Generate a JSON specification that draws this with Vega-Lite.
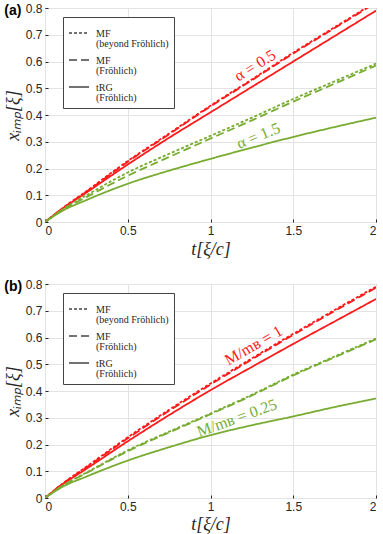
{
  "$schema": "https://vega.github.io/schema/vega-lite/v6.json",
  "padding": {"left": 3, "top": 1, "right": 0, "bottom": 0},
  "background": "white",
  "config": {
    "view": {"stroke": "#555", "strokeWidth": 1},
    "axis": {
      "labelFont": "Liberation Sans", "labelFontSize": 12, "labelColor": "#262626", "labelOverlap": false,
      "tickColor": "#262626", "tickSize": -3, "domain": false,
      "gridColor": "#e3e3e3", "gridWidth": 1,
      "titleFont": "Liberation Serif", "titleFontStyle": "italic", "titleFontWeight": "normal",
      "titleFontSize": 18, "titleColor": "#262626"
    },
    "legend": {
      "orient": "none", "legendX": 18, "legendY": 9, "fillColor": "white", "strokeColor": "#444",
      "padding": 5, "labelFont": "Liberation Serif", "labelFontSize": 10, "labelColor": "#262626",
      "symbolType": "stroke", "symbolStrokeColor": "#444", "symbolStrokeWidth": 1.5, "symbolSize": 400,
      "rowPadding": 0, "labelOffset": 6
    },
    "title": {"font": "Liberation Sans", "fontSize": 14, "fontWeight": "bold", "color": "#000"}
  },
  "datasets": {
    "a": [
      {"s": "0.5", "m": "MF-b", "t": 0, "x": 0}, {"s": "0.5", "m": "MF-b", "t": 0.1, "x": 0.049}, {"s": "0.5", "m": "MF-b", "t": 0.25, "x": 0.115}, {"s": "0.5", "m": "MF-b", "t": 0.5, "x": 0.228}, {"s": "0.5", "m": "MF-b", "t": 0.75, "x": 0.331}, {"s": "0.5", "m": "MF-b", "t": 1, "x": 0.435}, {"s": "0.5", "m": "MF-b", "t": 1.25, "x": 0.533}, {"s": "0.5", "m": "MF-b", "t": 1.5, "x": 0.633}, {"s": "0.5", "m": "MF-b", "t": 1.75, "x": 0.728}, {"s": "0.5", "m": "MF-b", "t": 2, "x": 0.823},
      {"s": "0.5", "m": "MF-F", "t": 0, "x": 0}, {"s": "0.5", "m": "MF-F", "t": 0.1, "x": 0.048}, {"s": "0.5", "m": "MF-F", "t": 0.25, "x": 0.113}, {"s": "0.5", "m": "MF-F", "t": 0.5, "x": 0.225}, {"s": "0.5", "m": "MF-F", "t": 0.75, "x": 0.328}, {"s": "0.5", "m": "MF-F", "t": 1, "x": 0.432}, {"s": "0.5", "m": "MF-F", "t": 1.25, "x": 0.53}, {"s": "0.5", "m": "MF-F", "t": 1.5, "x": 0.63}, {"s": "0.5", "m": "MF-F", "t": 1.75, "x": 0.725}, {"s": "0.5", "m": "MF-F", "t": 2, "x": 0.82},
      {"s": "0.5", "m": "tRG", "t": 0, "x": 0}, {"s": "0.5", "m": "tRG", "t": 0.1, "x": 0.047}, {"s": "0.5", "m": "tRG", "t": 0.25, "x": 0.11}, {"s": "0.5", "m": "tRG", "t": 0.5, "x": 0.215}, {"s": "0.5", "m": "tRG", "t": 0.75, "x": 0.315}, {"s": "0.5", "m": "tRG", "t": 1, "x": 0.41}, {"s": "0.5", "m": "tRG", "t": 1.25, "x": 0.505}, {"s": "0.5", "m": "tRG", "t": 1.5, "x": 0.6}, {"s": "0.5", "m": "tRG", "t": 1.75, "x": 0.695}, {"s": "0.5", "m": "tRG", "t": 2, "x": 0.79},
      {"s": "1.5", "m": "MF-b", "t": 0, "x": 0}, {"s": "1.5", "m": "MF-b", "t": 0.1, "x": 0.045}, {"s": "1.5", "m": "MF-b", "t": 0.25, "x": 0.1}, {"s": "1.5", "m": "MF-b", "t": 0.5, "x": 0.185}, {"s": "1.5", "m": "MF-b", "t": 0.75, "x": 0.255}, {"s": "1.5", "m": "MF-b", "t": 1, "x": 0.322}, {"s": "1.5", "m": "MF-b", "t": 1.25, "x": 0.39}, {"s": "1.5", "m": "MF-b", "t": 1.5, "x": 0.46}, {"s": "1.5", "m": "MF-b", "t": 1.75, "x": 0.526}, {"s": "1.5", "m": "MF-b", "t": 2, "x": 0.592},
      {"s": "1.5", "m": "MF-F", "t": 0, "x": 0}, {"s": "1.5", "m": "MF-F", "t": 0.1, "x": 0.043}, {"s": "1.5", "m": "MF-F", "t": 0.25, "x": 0.093}, {"s": "1.5", "m": "MF-F", "t": 0.5, "x": 0.173}, {"s": "1.5", "m": "MF-F", "t": 0.75, "x": 0.243}, {"s": "1.5", "m": "MF-F", "t": 1, "x": 0.312}, {"s": "1.5", "m": "MF-F", "t": 1.25, "x": 0.38}, {"s": "1.5", "m": "MF-F", "t": 1.5, "x": 0.45}, {"s": "1.5", "m": "MF-F", "t": 1.75, "x": 0.517}, {"s": "1.5", "m": "MF-F", "t": 2, "x": 0.585},
      {"s": "1.5", "m": "tRG", "t": 0, "x": 0}, {"s": "1.5", "m": "tRG", "t": 0.1, "x": 0.04}, {"s": "1.5", "m": "tRG", "t": 0.25, "x": 0.082}, {"s": "1.5", "m": "tRG", "t": 0.5, "x": 0.143}, {"s": "1.5", "m": "tRG", "t": 0.75, "x": 0.192}, {"s": "1.5", "m": "tRG", "t": 1, "x": 0.236}, {"s": "1.5", "m": "tRG", "t": 1.25, "x": 0.278}, {"s": "1.5", "m": "tRG", "t": 1.5, "x": 0.318}, {"s": "1.5", "m": "tRG", "t": 1.75, "x": 0.355}, {"s": "1.5", "m": "tRG", "t": 2, "x": 0.39}
    ],
    "b": [
      {"s": "1", "m": "MF-b", "t": 0, "x": 0}, {"s": "1", "m": "MF-b", "t": 0.1, "x": 0.051}, {"s": "1", "m": "MF-b", "t": 0.25, "x": 0.117}, {"s": "1", "m": "MF-b", "t": 0.5, "x": 0.227}, {"s": "1", "m": "MF-b", "t": 0.75, "x": 0.33}, {"s": "1", "m": "MF-b", "t": 1, "x": 0.428}, {"s": "1", "m": "MF-b", "t": 1.25, "x": 0.522}, {"s": "1", "m": "MF-b", "t": 1.5, "x": 0.614}, {"s": "1", "m": "MF-b", "t": 1.75, "x": 0.703}, {"s": "1", "m": "MF-b", "t": 2, "x": 0.79},
      {"s": "1", "m": "MF-F", "t": 0, "x": 0}, {"s": "1", "m": "MF-F", "t": 0.1, "x": 0.05}, {"s": "1", "m": "MF-F", "t": 0.25, "x": 0.114}, {"s": "1", "m": "MF-F", "t": 0.5, "x": 0.223}, {"s": "1", "m": "MF-F", "t": 0.75, "x": 0.326}, {"s": "1", "m": "MF-F", "t": 1, "x": 0.424}, {"s": "1", "m": "MF-F", "t": 1.25, "x": 0.518}, {"s": "1", "m": "MF-F", "t": 1.5, "x": 0.61}, {"s": "1", "m": "MF-F", "t": 1.75, "x": 0.699}, {"s": "1", "m": "MF-F", "t": 2, "x": 0.786},
      {"s": "1", "m": "tRG", "t": 0, "x": 0}, {"s": "1", "m": "tRG", "t": 0.1, "x": 0.048}, {"s": "1", "m": "tRG", "t": 0.25, "x": 0.109}, {"s": "1", "m": "tRG", "t": 0.5, "x": 0.212}, {"s": "1", "m": "tRG", "t": 0.75, "x": 0.31}, {"s": "1", "m": "tRG", "t": 1, "x": 0.403}, {"s": "1", "m": "tRG", "t": 1.25, "x": 0.49}, {"s": "1", "m": "tRG", "t": 1.5, "x": 0.576}, {"s": "1", "m": "tRG", "t": 1.75, "x": 0.66}, {"s": "1", "m": "tRG", "t": 2, "x": 0.744},
      {"s": "0.25", "m": "MF-b", "t": 0, "x": 0}, {"s": "0.25", "m": "MF-b", "t": 0.1, "x": 0.044}, {"s": "0.25", "m": "MF-b", "t": 0.25, "x": 0.095}, {"s": "0.25", "m": "MF-b", "t": 0.5, "x": 0.178}, {"s": "0.25", "m": "MF-b", "t": 0.75, "x": 0.248}, {"s": "0.25", "m": "MF-b", "t": 1, "x": 0.316}, {"s": "0.25", "m": "MF-b", "t": 1.25, "x": 0.386}, {"s": "0.25", "m": "MF-b", "t": 1.5, "x": 0.461}, {"s": "0.25", "m": "MF-b", "t": 1.75, "x": 0.529}, {"s": "0.25", "m": "MF-b", "t": 2, "x": 0.596},
      {"s": "0.25", "m": "MF-F", "t": 0, "x": 0}, {"s": "0.25", "m": "MF-F", "t": 0.1, "x": 0.043}, {"s": "0.25", "m": "MF-F", "t": 0.25, "x": 0.093}, {"s": "0.25", "m": "MF-F", "t": 0.5, "x": 0.175}, {"s": "0.25", "m": "MF-F", "t": 0.75, "x": 0.245}, {"s": "0.25", "m": "MF-F", "t": 1, "x": 0.313}, {"s": "0.25", "m": "MF-F", "t": 1.25, "x": 0.383}, {"s": "0.25", "m": "MF-F", "t": 1.5, "x": 0.458}, {"s": "0.25", "m": "MF-F", "t": 1.75, "x": 0.526}, {"s": "0.25", "m": "MF-F", "t": 2, "x": 0.593},
      {"s": "0.25", "m": "tRG", "t": 0, "x": 0}, {"s": "0.25", "m": "tRG", "t": 0.1, "x": 0.04}, {"s": "0.25", "m": "tRG", "t": 0.25, "x": 0.08}, {"s": "0.25", "m": "tRG", "t": 0.5, "x": 0.14}, {"s": "0.25", "m": "tRG", "t": 0.75, "x": 0.19}, {"s": "0.25", "m": "tRG", "t": 1, "x": 0.235}, {"s": "0.25", "m": "tRG", "t": 1.25, "x": 0.272}, {"s": "0.25", "m": "tRG", "t": 1.5, "x": 0.305}, {"s": "0.25", "m": "tRG", "t": 1.75, "x": 0.34}, {"s": "0.25", "m": "tRG", "t": 2, "x": 0.372}
    ]
  },
  "resolve": {
    "scale": {"color": "independent", "strokeDash": "independent"},
    "legend": {"color": "independent", "strokeDash": "independent"}
  },
  "spacing": 18,
  "vconcat": [
    {
      "width": 331, "height": 214,
      "title": {"text": "(a)", "anchor": "start", "frame": "bounds", "offset": -16},
      "layer": [
        {
          "data": {"name": "a"},
          "mark": {"type": "line", "clip": true, "strokeWidth": 1.8, "interpolate": "monotone"},
          "encoding": {
            "x": {"field": "t", "type": "quantitative", "scale": {"domain": [0, 2], "nice": false},
                  "axis": {"values": [0, 0.5, 1, 1.5, 2], "tickCount": 5, "format": "~g", "title": "t[ξ/c]", "labelPadding": 6, "titlePadding": 4, "labelOverlap": false}},
            "y": {"field": "x", "type": "quantitative", "scale": {"domain": [0, 0.8], "nice": false},
                  "axis": {"values": [0, 0.1, 0.2, 0.3, 0.4, 0.5, 0.6, 0.7, 0.8], "tickCount": 9, "format": "~g", "title": "xᵢₘₚ[ξ]", "labelPadding": 6, "titlePadding": 3, "labelOverlap": false, "labelFlush": false}},
            "color": {"field": "s", "type": "nominal", "scale": {"domain": ["0.5", "1.5"], "range": ["#ff1a1a", "#77ac30"]}, "legend": null},
            "strokeDash": {"field": "m", "type": "nominal",
              "scale": {"domain": ["MF-b", "MF-F", "tRG"], "range": [[3, 2], [8, 4], [1, 0]]},
              "legend": {"title": null,
                "labelExpr": "datum.label == 'MF-b' ? ['MF', '(beyond Fröhlich)'] : datum.label == 'MF-F' ? ['MF', '(Fröhlich)'] : ['tRG', '(Fröhlich)']",
                "labelBaseline": "alphabetic",
                "encode": {"labels": {"update": {"dy": {"value": 4}, "lineHeight": {"value": 10}}}}}}
          }
        },
        {
          "data": {"values": [{}]},
          "mark": {"type": "text", "font": "Liberation Serif", "fontSize": 16, "angle": 328, "color": "#ff1a1a"},
          "encoding": {
            "x": {"datum": 1.27, "type": "quantitative", "axis": {"values": [0, 0.5, 1, 1.5, 2], "tickCount": 5, "format": "~g", "title": "t[ξ/c]", "labelPadding": 6, "titlePadding": 4, "labelOverlap": false}},
            "y": {"datum": 0.585, "type": "quantitative", "axis": {"values": [0, 0.1, 0.2, 0.3, 0.4, 0.5, 0.6, 0.7, 0.8], "tickCount": 9, "format": "~g", "title": "xᵢₘₚ[ξ]", "labelPadding": 6, "titlePadding": 3, "labelOverlap": false, "labelFlush": false}},
            "text": {"value": "α = 0.5"}}
        },
        {
          "data": {"values": [{}]},
          "mark": {"type": "text", "font": "Liberation Serif", "fontSize": 16, "angle": 338, "color": "#77ac30"},
          "encoding": {
            "x": {"datum": 1.29, "type": "quantitative", "axis": {"values": [0, 0.5, 1, 1.5, 2], "tickCount": 5, "format": "~g", "title": "t[ξ/c]", "labelPadding": 6, "titlePadding": 4, "labelOverlap": false}},
            "y": {"datum": 0.322, "type": "quantitative", "axis": {"values": [0, 0.1, 0.2, 0.3, 0.4, 0.5, 0.6, 0.7, 0.8], "tickCount": 9, "format": "~g", "title": "xᵢₘₚ[ξ]", "labelPadding": 6, "titlePadding": 3, "labelOverlap": false, "labelFlush": false}},
            "text": {"value": "α = 1.5"}}
        }
      ]
    },
    {
      "width": 331, "height": 214,
      "title": {"text": "(b)", "anchor": "start", "frame": "bounds", "offset": -16},
      "layer": [
        {
          "data": {"name": "b"},
          "mark": {"type": "line", "clip": true, "strokeWidth": 1.8, "interpolate": "monotone"},
          "encoding": {
            "x": {"field": "t", "type": "quantitative", "scale": {"domain": [0, 2], "nice": false},
                  "axis": {"values": [0, 0.5, 1, 1.5, 2], "tickCount": 5, "format": "~g", "title": "t[ξ/c]", "labelPadding": 6, "titlePadding": 3, "labelOverlap": false}},
            "y": {"field": "x", "type": "quantitative", "scale": {"domain": [0, 0.8], "nice": false},
                  "axis": {"values": [0, 0.1, 0.2, 0.3, 0.4, 0.5, 0.6, 0.7, 0.8], "tickCount": 9, "format": "~g", "title": "xᵢₘₚ[ξ]", "labelPadding": 6, "titlePadding": 3, "labelOverlap": false, "labelFlush": false}},
            "color": {"field": "s", "type": "nominal", "scale": {"domain": ["1", "0.25"], "range": ["#ff1a1a", "#77ac30"]}, "legend": null},
            "strokeDash": {"field": "m", "type": "nominal",
              "scale": {"domain": ["MF-b", "MF-F", "tRG"], "range": [[3, 2], [8, 4], [1, 0]]},
              "legend": {"title": null,
                "labelExpr": "datum.label == 'MF-b' ? ['MF', '(beyond Fröhlich)'] : datum.label == 'MF-F' ? ['MF', '(Fröhlich)'] : ['tRG', '(Fröhlich)']",
                "labelBaseline": "alphabetic",
                "encode": {"labels": {"update": {"dy": {"value": 4}, "lineHeight": {"value": 10}}}}}}
          }
        },
        {
          "data": {"values": [{}]},
          "mark": {"type": "text", "font": "Liberation Serif", "fontSize": 16, "angle": 330, "color": "#ff1a1a"},
          "encoding": {
            "x": {"datum": 1.26, "type": "quantitative", "axis": {"values": [0, 0.5, 1, 1.5, 2], "tickCount": 5, "format": "~g", "title": "t[ξ/c]", "labelPadding": 6, "titlePadding": 3, "labelOverlap": false}},
            "y": {"datum": 0.57, "type": "quantitative", "axis": {"values": [0, 0.1, 0.2, 0.3, 0.4, 0.5, 0.6, 0.7, 0.8], "tickCount": 9, "format": "~g", "title": "xᵢₘₚ[ξ]", "labelPadding": 6, "titlePadding": 3, "labelOverlap": false, "labelFlush": false}},
            "text": {"value": "M/mʙ = 1"}}
        },
        {
          "data": {"values": [{}]},
          "mark": {"type": "text", "font": "Liberation Serif", "fontSize": 16, "angle": 340, "color": "#77ac30"},
          "encoding": {
            "x": {"datum": 1.16, "type": "quantitative", "axis": {"values": [0, 0.5, 1, 1.5, 2], "tickCount": 5, "format": "~g", "title": "t[ξ/c]", "labelPadding": 6, "titlePadding": 3, "labelOverlap": false}},
            "y": {"datum": 0.299, "type": "quantitative", "axis": {"values": [0, 0.1, 0.2, 0.3, 0.4, 0.5, 0.6, 0.7, 0.8], "tickCount": 9, "format": "~g", "title": "xᵢₘₚ[ξ]", "labelPadding": 6, "titlePadding": 3, "labelOverlap": false, "labelFlush": false}},
            "text": {"value": "M/mʙ = 0.25"}}
        }
      ]
    }
  ]
}
